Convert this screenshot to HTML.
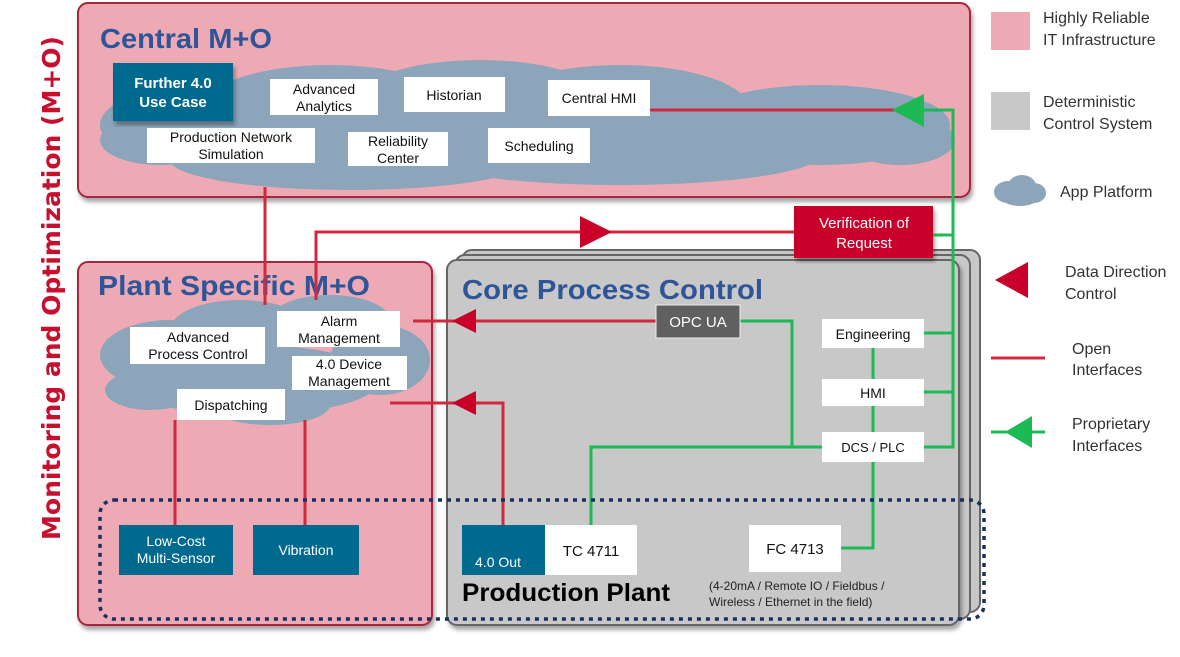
<!DOCTYPE html>
<html><head><meta charset="utf-8"><style>
html,body{margin:0;padding:0;background:#fff;}
svg{display:block;font-family:"Liberation Sans",sans-serif;}
</style></head><body>
<svg width="1180" height="657" viewBox="0 0 1180 657" xmlns="http://www.w3.org/2000/svg">
<defs>
<filter id="sh" x="-5%" y="-5%" width="110%" height="115%"><feDropShadow dx="2" dy="4" stdDeviation="2" flood-color="#000" flood-opacity="0.35"/></filter>
</defs>
<text transform="translate(60,288) rotate(-90)" text-anchor="middle" font-family="DejaVu Sans, sans-serif" font-size="25" font-weight="bold" fill="#c8102e">Monitoring and Optimization (M+O)</text>

<rect x="78" y="3" width="892" height="194" rx="10" fill="#edaab5" stroke="#a8283c" stroke-width="2" filter="url(#sh)"/>
<text x="100" y="48" font-size="28" font-weight="bold" fill="#2e5597" textLength="172" lengthAdjust="spacingAndGlyphs">Central M+O</text>
<g fill="#8ca5bb">
<ellipse cx="200" cy="125" rx="100" ry="40"/>
<ellipse cx="330" cy="110" rx="130" ry="45"/>
<ellipse cx="480" cy="105" rx="130" ry="45"/>
<ellipse cx="620" cy="110" rx="130" ry="45"/>
<ellipse cx="820" cy="125" rx="130" ry="40"/>
<ellipse cx="350" cy="160" rx="180" ry="30"/>
<ellipse cx="620" cy="155" rx="200" ry="30"/>
<ellipse cx="160" cy="140" rx="60" ry="25"/>
<ellipse cx="900" cy="140" rx="55" ry="25"/>
</g>
<rect x="113" y="63" width="120" height="58" fill="#006a8e" filter="url(#sh)"/>
<text x="173" y="88" font-size="15" font-weight="bold" fill="#fff" text-anchor="middle">Further 4.0</text>
<text x="173" y="107" font-size="15" font-weight="bold" fill="#fff" text-anchor="middle">Use Case</text>
<g fill="#fff"><rect x="270" y="79" width="108" height="36"/><rect x="404" y="77" width="101" height="35"/><rect x="548" y="80" width="102" height="36"/><rect x="147" y="128" width="168" height="35"/><rect x="348" y="132" width="100" height="34"/><rect x="488" y="128" width="102" height="35"/></g>
<g font-size="14" fill="#111" text-anchor="middle">
<text x="324" y="94">Advanced</text><text x="324" y="111">Analytics</text>
<text x="454" y="100">Historian</text>
<text x="599" y="103">Central HMI</text>
<text x="231" y="142">Production Network</text><text x="231" y="159">Simulation</text>
<text x="398" y="146">Reliability</text><text x="398" y="163">Center</text>
<text x="539" y="151">Scheduling</text>
</g>

<rect x="78" y="262" width="354" height="363" rx="10" fill="#edaab5" stroke="#a8283c" stroke-width="2" filter="url(#sh)"/>

<rect x="462" y="250" width="518" height="362" rx="10" fill="#c8c8c8" stroke="#666" stroke-width="2"/>
<rect x="455" y="255" width="515" height="364" rx="10" fill="#c8c8c8" stroke="#666" stroke-width="2"/>
<rect x="447" y="260" width="512" height="365" rx="10" fill="#c8c8c8" stroke="#666" stroke-width="2" filter="url(#sh)"/>

<text x="98" y="295" font-size="28" font-weight="bold" fill="#2e5597" textLength="272" lengthAdjust="spacingAndGlyphs">Plant  Specific M+O</text>
<text x="462" y="299" font-size="28" font-weight="bold" fill="#2e5597" textLength="301" lengthAdjust="spacingAndGlyphs">Core Process Control</text>

<g fill="#8ca5bb">
<ellipse cx="170" cy="355" rx="70" ry="35"/>
<ellipse cx="240" cy="330" rx="70" ry="30"/>
<ellipse cx="330" cy="320" rx="60" ry="25"/>
<ellipse cx="380" cy="360" rx="50" ry="35"/>
<ellipse cx="250" cy="380" rx="130" ry="35"/>
<ellipse cx="270" cy="405" rx="60" ry="20"/>
<ellipse cx="150" cy="390" rx="45" ry="20"/>
</g>
<g fill="#fff"><rect x="130" y="327" width="135" height="37"/><rect x="277" y="311" width="123" height="36"/><rect x="292" y="356" width="115" height="34"/><rect x="177" y="389" width="108" height="31"/></g>
<g font-size="14" fill="#111" text-anchor="middle">
<text x="198" y="342">Advanced</text><text x="198" y="359">Process Control</text>
<text x="339" y="326">Alarm</text><text x="339" y="343">Management</text>
<text x="349" y="369">4.0 Device</text><text x="349" y="386">Management</text>
<text x="231" y="410">Dispatching</text>
</g>

<g stroke="#d0283c" stroke-width="3" fill="none">
<line x1="265" y1="187" x2="265" y2="305"/>
<polyline points="316,300 316,232 794,232"/>
<line x1="650" y1="110" x2="895" y2="110"/>
<line x1="413" y1="321" x2="656" y2="321"/>
<polyline points="390,403 503,403 503,548 535,548"/>
<line x1="175" y1="420" x2="175" y2="525"/>
<line x1="305" y1="420" x2="305" y2="525"/>
</g>
<g fill="#c8002a">
<polygon points="612,232 580,216 580,248"/>
<polygon points="452,321 476,309 476,333"/>
<polygon points="452,403 476,391 476,415"/>
<polygon points="528,548 553,535 553,561"/>
</g>

<rect x="794" y="206" width="139" height="52" fill="#c8002a" filter="url(#sh)"/>
<text x="864" y="228" font-size="15" fill="#fff" text-anchor="middle">Verification of</text>
<text x="864" y="248" font-size="15" fill="#fff" text-anchor="middle">Request</text>

<g stroke="#1db954" stroke-width="3" fill="none">
<polyline points="922,110 953,110 953,447 924,447"/>
<line x1="933" y1="235" x2="953" y2="235"/>
<line x1="924" y1="333" x2="953" y2="333"/>
<line x1="924" y1="392" x2="953" y2="392"/>
<polyline points="740,321 792,321 792,447"/>
<polyline points="591,527 591,447 822,447"/>
<line x1="873" y1="348" x2="873" y2="379"/>
<line x1="873" y1="406" x2="873" y2="432"/>
<polyline points="873,462 873,548 841,548"/>
</g>
<polygon points="892,110 924,94 924,127" fill="#1db954"/>

<rect x="656" y="305" width="84" height="33" fill="#606060" stroke="#eee" stroke-width="1"/>
<text x="698" y="327" font-size="15" fill="#fff" text-anchor="middle">OPC UA</text>
<g fill="#fff"><rect x="822" y="319" width="102" height="29"/><rect x="822" y="379" width="102" height="27"/><rect x="822" y="432" width="102" height="30"/></g>
<g font-size="14" fill="#111" text-anchor="middle">
<text x="873" y="339">Engineering</text><text x="873" y="398">HMI</text><text x="873" y="452" font-size="13">DCS / PLC</text>
</g>

<rect x="462" y="525" width="83" height="50" fill="#006a8e"/>
<text x="498" y="567" font-size="14" fill="#fff" text-anchor="middle">4.0 Out</text>
<rect x="545" y="525" width="92" height="50" fill="#fff"/>
<text x="591" y="556" font-size="15" fill="#111" text-anchor="middle">TC 4711</text>
<rect x="749" y="525" width="92" height="47" fill="#fff"/>
<text x="795" y="554" font-size="15" fill="#111" text-anchor="middle">FC 4713</text>
<text x="462" y="601" font-size="25" font-weight="bold" fill="#000" textLength="208" lengthAdjust="spacingAndGlyphs">Production Plant</text>
<text x="709" y="590" font-size="12" fill="#222">(4-20mA / Remote IO / Fieldbus /</text>
<text x="709" y="606" font-size="12" fill="#222">Wireless / Ethernet in the field)</text>

<rect x="119" y="525" width="114" height="50" fill="#006a8e"/>
<text x="176" y="546" font-size="14" fill="#fff" text-anchor="middle">Low-Cost</text>
<text x="176" y="563" font-size="14" fill="#fff" text-anchor="middle">Multi-Sensor</text>
<rect x="253" y="525" width="106" height="50" fill="#006a8e"/>
<text x="306" y="555" font-size="14" fill="#fff" text-anchor="middle">Vibration</text>

<rect x="100" y="500" width="884" height="119" rx="14" fill="none" stroke="#1a2f5e" stroke-width="3.5" stroke-dasharray="4,5"/>

<rect x="991" y="12" width="39" height="38" fill="#edaab5"/>
<rect x="991" y="92" width="39" height="38" fill="#c8c8c8"/>
<g font-size="16" fill="#333">
<text x="1043" y="23">Highly Reliable</text><text x="1043" y="45">IT Infrastructure</text>
<text x="1043" y="107">Deterministic</text><text x="1043" y="129">Control System</text>
<text x="1060" y="197">App Platform</text>
<text x="1065" y="277">Data Direction</text><text x="1065" y="299">Control</text>
<text x="1072" y="354">Open</text><text x="1072" y="375">Interfaces</text>
<text x="1072" y="429">Proprietary</text><text x="1072" y="451">Interfaces</text>
</g>
<g fill="#8ca5bb">
<ellipse cx="1008" cy="192" rx="14" ry="11"/><ellipse cx="1022" cy="186" rx="14" ry="11"/><ellipse cx="1034" cy="193" rx="12" ry="10"/><ellipse cx="1020" cy="198" rx="18" ry="8"/>
</g>
<polygon points="995,280 1028,262 1028,298" fill="#c8002a"/>
<line x1="991" y1="358" x2="1045" y2="358" stroke="#d0283c" stroke-width="3"/>
<line x1="991" y1="432" x2="1045" y2="432" stroke="#1db954" stroke-width="3"/>
<polygon points="1005,432 1032,416 1032,448" fill="#1db954"/>
</svg>
</body></html>
